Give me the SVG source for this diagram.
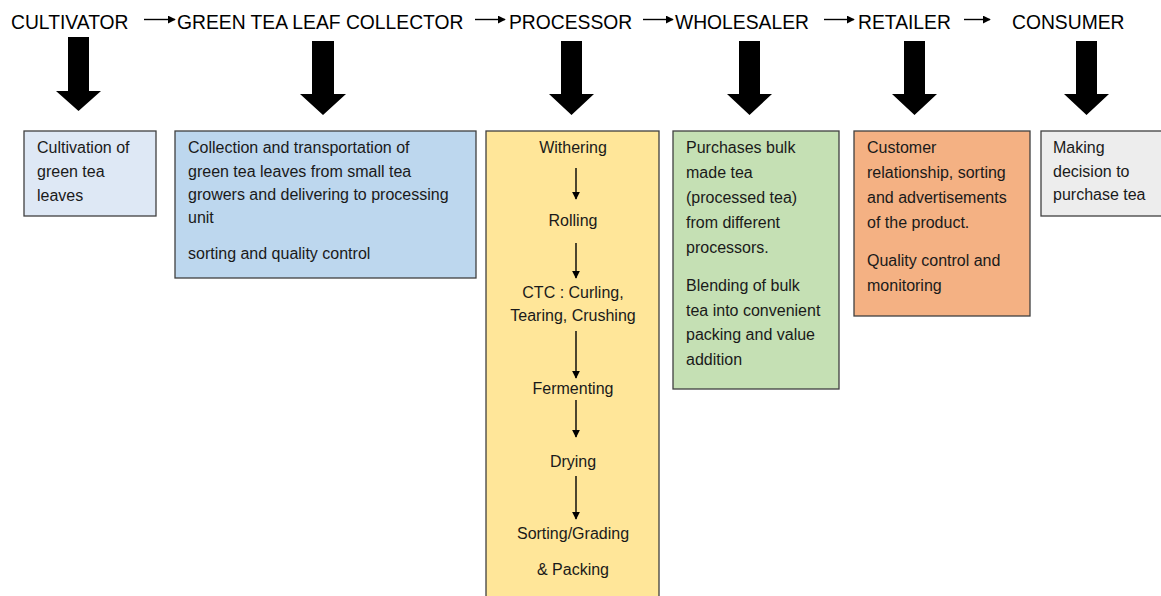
<svg xmlns="http://www.w3.org/2000/svg" width="1161" height="596" viewBox="0 0 1161 596">
<style>
.hdr{font-family:"Liberation Sans",Arial,sans-serif;font-size:19.3px;fill:#000}
.t{font-family:"Liberation Sans",Arial,sans-serif;font-size:16px;fill:#1a1a1a}
.c{text-anchor:middle}
.box{stroke:#404040;stroke-width:1.3}
.big{fill:#000}
.sm{stroke:#000;stroke-width:1.4;fill:none}
</style>
<defs>
<marker id="ah" viewBox="0 0 10 10" refX="9" refY="5" markerWidth="8" markerHeight="8" markerUnits="userSpaceOnUse" orient="auto">
<path d="M0,0 L10,5 L0,10 z" fill="#000"/>
</marker>
</defs>
<rect width="1161" height="596" fill="#fff"/>

<g id="connectors">
<line class="sm" x1="144" y1="19.5" x2="175" y2="19.5" marker-end="url(#ah)"/>
<line class="sm" x1="475" y1="19.5" x2="505" y2="19.5" marker-end="url(#ah)"/>
<line class="sm" x1="643" y1="19.5" x2="673" y2="19.5" marker-end="url(#ah)"/>
<line class="sm" x1="824" y1="19.5" x2="854" y2="19.5" marker-end="url(#ah)"/>
<line class="sm" x1="964" y1="19.5" x2="990" y2="19.5" marker-end="url(#ah)"/>
<path class="big" d="M68,37 H89 V91 H101 L78.5,111 L56,91 H68 Z"/>
<path class="big" d="M312,41 H334 V94 H346 L323,115 L300,94 H312 Z"/>
<path class="big" d="M561,41 H582 V94 H594 L571.5,115 L549,94 H561 Z"/>
<path class="big" d="M739,41 H760 V94 H772 L749.5,115 L727,94 H739 Z"/>
<path class="big" d="M904,41 H925 V94 H937 L914.5,115 L892,94 H904 Z"/>
<path class="big" d="M1076,41 H1097 V94 H1109 L1086.5,115 L1064,94 H1076 Z"/>
</g>

<g id="cultivator">
<text class="hdr" x="11" y="29">CULTIVATOR</text>
<rect class="box" x="24" y="131" width="132" height="85" fill="#dee8f5"/>
<text class="t" x="37" y="153">Cultivation of</text>
<text class="t" x="37" y="177">green tea</text>
<text class="t" x="37" y="201">leaves</text>
</g>

<g id="collector">
<text class="hdr" x="177" y="29">GREEN TEA LEAF COLLECTOR</text>
<rect class="box" x="175" y="131" width="301" height="147" fill="#bdd7ee"/>
<text class="t" x="188" y="153">Collection and transportation of</text>
<text class="t" x="188" y="177">green tea leaves from small tea</text>
<text class="t" x="188" y="200">growers and delivering to processing</text>
<text class="t" x="188" y="223">unit</text>
<text class="t" x="188" y="259">sorting and quality control</text>
</g>

<g id="processor">
<text class="hdr" x="509" y="29">PROCESSOR</text>
<rect class="box" x="486" y="131" width="173" height="480" fill="#ffe699"/>
<text class="t c" x="573" y="153">Withering</text>
<text class="t c" x="573" y="226">Rolling</text>
<text class="t c" x="573" y="298">CTC : Curling,</text>
<text class="t c" x="573" y="321">Tearing, Crushing</text>
<text class="t c" x="573" y="394">Fermenting</text>
<text class="t c" x="573" y="467">Drying</text>
<text class="t c" x="573" y="539">Sorting/Grading</text>
<text class="t c" x="573" y="575">&amp; Packing</text>
<line class="sm" x1="576" y1="168" x2="576" y2="199" marker-end="url(#ah)"/>
<line class="sm" x1="576" y1="243" x2="576" y2="278" marker-end="url(#ah)"/>
<line class="sm" x1="576" y1="331" x2="576" y2="378" marker-end="url(#ah)"/>
<line class="sm" x1="576" y1="400" x2="576" y2="437" marker-end="url(#ah)"/>
<line class="sm" x1="576" y1="476" x2="576" y2="519" marker-end="url(#ah)"/>
</g>

<g id="wholesaler">
<text class="hdr" x="675" y="29">WHOLESALER</text>
<rect class="box" x="673" y="131" width="166" height="258" fill="#c5e0b4"/>
<text class="t" x="686" y="153">Purchases bulk</text>
<text class="t" x="686" y="178">made tea</text>
<text class="t" x="686" y="203">(processed tea)</text>
<text class="t" x="686" y="228">from different</text>
<text class="t" x="686" y="253">processors.</text>
<text class="t" x="686" y="291">Blending of bulk</text>
<text class="t" x="686" y="316">tea into convenient</text>
<text class="t" x="686" y="340">packing and value</text>
<text class="t" x="686" y="365">addition</text>
</g>

<g id="retailer">
<text class="hdr" x="858" y="29">RETAILER</text>
<rect class="box" x="854" y="131" width="176" height="185" fill="#f4b183"/>
<text class="t" x="867" y="153">Customer</text>
<text class="t" x="867" y="178">relationship, sorting</text>
<text class="t" x="867" y="203">and advertisements</text>
<text class="t" x="867" y="228">of the product.</text>
<text class="t" x="867" y="266">Quality control and</text>
<text class="t" x="867" y="291">monitoring</text>
</g>

<g id="consumer">
<text class="hdr" x="1012" y="29">CONSUMER</text>
<rect class="box" x="1041" y="131" width="130" height="85" fill="#ededed"/>
<text class="t" x="1053" y="153">Making</text>
<text class="t" x="1053" y="177">decision to</text>
<text class="t" x="1053" y="200">purchase tea</text>
</g>
</svg>
